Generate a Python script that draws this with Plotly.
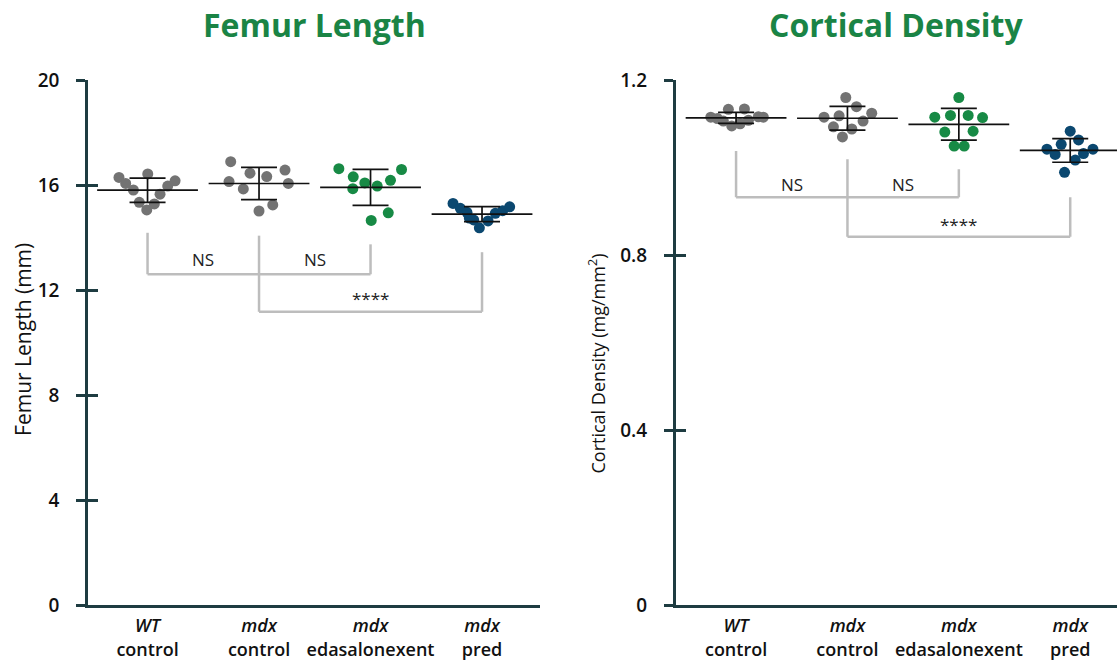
import numpy as np
import plotly.graph_objects as go

# ---- data -------------------------------------------------------------
GROUPS = ["<i>WT</i><br>control", "<i>mdx</i><br>control",
          "<i>mdx</i><br>edasalonexent", "<i>mdx</i><br>pred"]
GROUP_COLORS = ["#737373", "#737373", "#178a45", "#0b4870"]

# Femur length (mm), one list per group
femur_wt_ctrl = [16.29, 16.06, 15.81, 16.42, 15.34, 15.05, 15.28, 15.65, 15.96, 16.16]
femur_mdx_ctrl = [16.89, 16.13, 16.45, 15.85, 16.32, 16.57, 16.06, 15.01, 15.24]
femur_mdx_edas = [16.62, 16.31, 15.86, 16.08, 15.96, 16.18, 16.59, 14.94, 14.65]
femur_mdx_pred = [15.30, 15.11, 14.96, 14.67, 14.37, 14.63, 14.92, 15.02, 15.17, 14.74]

# Horizontal spread of the dots inside each group (category units)
femur_jitter = [
    [-0.256, -0.196, -0.127, 0.002, -0.074, -0.007, 0.061, 0.112, 0.181, 0.247],
    [-0.254, -0.269, -0.081, -0.141, 0.069, 0.233, 0.263, 0.000, 0.123],
    [-0.284, -0.155, -0.159, -0.051, 0.060, 0.179, 0.278, 0.159, 0.006],
    [-0.260, -0.195, -0.135, -0.075, -0.024, 0.054, 0.119, 0.185, 0.248, -0.114],
]

# Cortical density (mg/mm^2)
cort_wt_ctrl = [1.115, 1.112, 1.133, 1.106, 1.095, 1.100, 1.134, 1.108, 1.116, 1.115]
cort_mdx_ctrl = [1.160, 1.139, 1.118, 1.115, 1.124, 1.106, 1.093, 1.088, 1.070]
cort_mdx_edas = [1.160, 1.115, 1.119, 1.119, 1.114, 1.081, 1.083, 1.049, 1.049]
cort_mdx_pred = [1.083, 1.063, 1.053, 1.042, 1.042, 1.030, 1.032, 1.017, 0.989]

cort_jitter = [
    [-0.227, -0.168, -0.069, -0.114, -0.039, 0.036, 0.075, 0.111, 0.200, 0.245],
    [-0.015, 0.081, -0.075, -0.210, 0.218, 0.140, -0.126, 0.039, -0.045],
    [0.000, -0.216, -0.075, 0.084, 0.213, -0.126, 0.128, -0.042, 0.048],
    [0.000, 0.075, -0.081, -0.209, 0.204, -0.135, 0.119, 0.045, -0.051],
]

# Significance brackets: leg start per group, bracket levels, label heights
femur_leg_tops = [14.18, 14.07, 13.74, 13.44]
femur_ns_level, femur_star_level = 12.6, 11.17
femur_ns_text_y, femur_star_text_y = 13.17, 11.68

cort_leg_tops = [1.038, 1.019, 0.996, 0.932]
cort_ns_level, cort_star_level = 0.932, 0.842
cort_ns_text_y, cort_star_text_y = 0.962, 0.869

FEMUR_TICKS = [0, 4, 8, 12, 16, 20]
CORT_TICKS = [0, 0.4, 0.8, 1.2]
CORT_TICKTEXT = ["0", "0.4", "0.8", "1.2"]

# ---- style ------------------------------------------------------------
FONT = "Open Sans"
AXIS_COLOR = "#1e3c41"
BRACKET_COLOR = "#bdbdbd"
TITLE_GREEN = "#1a8445"
W, H = 1117, 660

fig = go.Figure()


def add_panel(groups_values, jitter, xa, ya):
    for i, (vals, jit) in enumerate(zip(groups_values, jitter)):
        fig.add_trace(go.Scatter(
            x=[i + j for j in jit], y=vals, mode="markers",
            marker=dict(size=11, color=GROUP_COLORS[i], line=dict(width=0)),
            xaxis=xa, yaxis=ya, hoverinfo="y"))
    for i, vals in enumerate(groups_values):
        arr = np.asarray(vals)
        mean, sd = arr.mean(), arr.std(ddof=1)
        fig.add_trace(go.Scatter(
            x=[i], y=[mean], mode="markers",
            marker=dict(symbol="line-ew", size=72,
                        line=dict(width=1.7, color="#111111")),
            error_y=dict(type="data", array=[sd], visible=True,
                         width=18, thickness=1.7, color="#111111"),
            xaxis=xa, yaxis=ya, hoverinfo="y"))


add_panel([femur_wt_ctrl, femur_mdx_ctrl, femur_mdx_edas, femur_mdx_pred],
          femur_jitter, "x", "y")
add_panel([cort_wt_ctrl, cort_mdx_ctrl, cort_mdx_edas, cort_mdx_pred],
          cort_jitter, "x2", "y2")

# empty traces so the inner-tick overlay axes are drawn
fig.add_trace(go.Scatter(x=[], y=[], xaxis="x", yaxis="y3", showlegend=False))
fig.add_trace(go.Scatter(x=[], y=[], xaxis="x2", yaxis="y4", showlegend=False))


def add_brackets(xref, yref, tops, ns_level, star_level, ns_y, star_y):
    line = dict(color=BRACKET_COLOR, width=2.5)
    shapes = []
    # NS bracket spans groups 0..2, **** bracket spans groups 1..3
    for g in (0, 2):
        shapes.append(dict(type="line", xref=xref, yref=yref, x0=g, x1=g,
                           y0=tops[g], y1=ns_level, line=line))
    for g in (1, 3):
        shapes.append(dict(type="line", xref=xref, yref=yref, x0=g, x1=g,
                           y0=tops[g], y1=star_level, line=line))
    shapes.append(dict(type="line", xref=xref, yref=yref, x0=0, x1=2,
                       y0=ns_level, y1=ns_level, line=line))
    shapes.append(dict(type="line", xref=xref, yref=yref, x0=1, x1=3,
                       y0=star_level, y1=star_level, line=line))
    for s in shapes:
        fig.add_shape(**s, layer="below")
    txt = dict(size=17, color="#222222", family=FONT)
    for a, b in ((0, 1), (1, 2)):
        fig.add_annotation(x=(a + b) / 2, y=ns_y, xref=xref, yref=yref,
                           text="NS", showarrow=False, font=txt)
    fig.add_annotation(x=2, y=star_y, xref=xref, yref=yref,
                       text="****", showarrow=False, font=txt)


add_brackets("x", "y", femur_leg_tops, femur_ns_level, femur_star_level,
             femur_ns_text_y, femur_star_text_y)
add_brackets("x2", "y2", cort_leg_tops, cort_ns_level, cort_star_level,
             cort_ns_text_y, cort_star_text_y)

ydom = [55 / H, 580 / H]
xdom1 = [88 / W, 540 / W]
xdom2 = [675.7 / W, 1.0]

xcommon = dict(showline=True, linecolor=AXIS_COLOR, linewidth=2.5,
               showgrid=False, zeroline=False, ticks="", automargin=False,
               tickvals=[0, 1, 2, 3], ticktext=GROUPS,
               tickfont=dict(family=FONT, size=18, color="#111111", weight=600),
               ticklabelstandoff=3, fixedrange=True)
ycommon = dict(showline=True, linecolor=AXIS_COLOR, linewidth=2.5,
               showgrid=False, zeroline=False, ticks="outside", ticklen=9,
               tickwidth=2.5, tickcolor=AXIS_COLOR, automargin=False,
               tickfont=dict(family=FONT, size=19, color="#111111", weight=600),
               ticklabelstandoff=13, fixedrange=True)
yinner = dict(showline=False, showgrid=False, zeroline=False, ticks="inside",
              ticklen=10, tickwidth=2.5, tickcolor=AXIS_COLOR, automargin=False,
              showticklabels=False, fixedrange=True)

fig.update_layout(
    width=W, height=H, margin=dict(l=0, r=0, t=0, b=0, autoexpand=False),
    paper_bgcolor="white", plot_bgcolor="white", showlegend=False,
    xaxis=dict(domain=xdom1, range=[-0.534, 3.52], anchor="y", **xcommon),
    xaxis2=dict(domain=xdom2, range=[-0.542, 3.42], anchor="y2", **xcommon),
    yaxis=dict(domain=ydom, range=[0, 20], anchor="x", tickvals=FEMUR_TICKS,
               **ycommon),
    yaxis2=dict(domain=ydom, range=[0, 1.2], anchor="x2", tickvals=CORT_TICKS,
                ticktext=CORT_TICKTEXT, **ycommon),
    yaxis3=dict(overlaying="y", anchor="x", range=[0, 20],
                tickvals=FEMUR_TICKS, **yinner),
    yaxis4=dict(overlaying="y2", anchor="x2", range=[0, 1.2],
                tickvals=CORT_TICKS, **yinner),
)

# panel titles
for xref, title in (("x domain", "Femur Length"), ("x2 domain", "Cortical Density")):
    fig.add_annotation(x=0.5, y=(H - 24) / H, xref=xref, yref="paper",
                       text=title, showarrow=False, yanchor="middle",
                       font=dict(family=FONT, size=32, color=TITLE_GREEN, weight=700))

# y-axis titles
fig.add_annotation(x=23 / W, y=0.505, xref="paper", yref="y domain",
                   xanchor="center", yanchor="middle",
                   text="Femur Length (mm)", textangle=-90, showarrow=False,
                   font=dict(family=FONT, size=21, color="#111111"))
fig.add_annotation(x=597 / W, y=0.46, xref="paper", yref="y2 domain",
                   xanchor="center", yanchor="middle",
                   text="Cortical Density (mg/mm<sup>2</sup>)", textangle=-90,
                   showarrow=False, font=dict(family=FONT, size=18, color="#111111"))

fig.write_html("out.html")
